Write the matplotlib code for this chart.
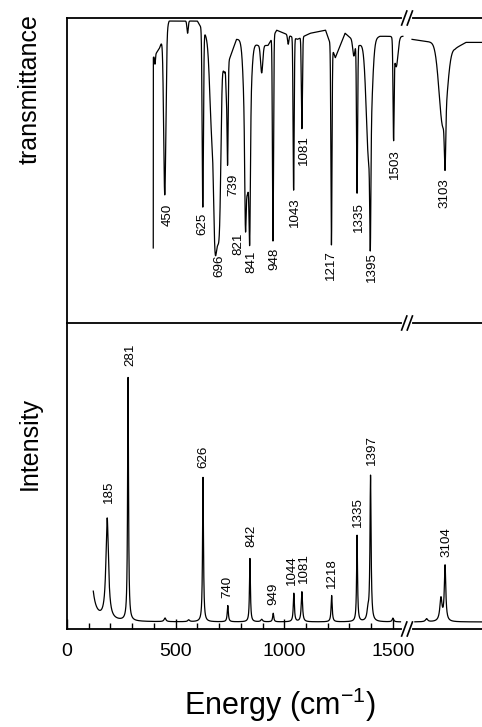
import numpy as np
import matplotlib.pyplot as plt

plt.rcParams['font.family'] = ['Liberation Sans', 'DejaVu Sans']
plt.rcParams['mathtext.fontset'] = 'custom'
plt.rcParams['mathtext.rm'] = 'Liberation Sans'
plt.rcParams['mathtext.it'] = 'Liberation Sans:italic'

# energy axis is broken: everything above the gap is shifted down by `shift`
shift = 1364
x_break = 1565
x_max = 1910

# ---- IR transmittance (top panel) ----
# upper envelope
ir_env_wn = [397, 425, 470, 600, 650, 725, 780, 805, 880, 925, 965, 1000, 1060,
             1120, 1190, 1235, 1280, 1345, 1440, 1546,
             2952, 3050, 3150, 3200, 3274]
ir_env_t = [0.87, 0.90, 0.99, 0.99, 0.93, 0.82, 0.93, 0.93, 0.91, 0.91, 0.96, 0.95, 0.93,
            0.95, 0.96, 0.87, 0.95, 0.91, 0.94, 0.94,
            0.93, 0.92, 0.90, 0.92, 0.92]
ir_start_t = 0.246  # spectrum begins with a jump at 397 cm-1

# absorption bands: centre, depth, width, shape power (2 = gaussian)
ir_c = [405, 450, 555, 625, 668, 692, 733, 739, 821, 830, 841, 896, 948, 1018,
        1043, 1081, 1217, 1320, 1335, 1390, 1396, 1503, 1515, 3095, 3104]
ir_d = [0.03, 0.53, 0.04, 0.58, 0.30, 0.60, 0.08, 0.33, 0.24, 0.50, 0.33, 0.09, 0.67, 0.03,
        0.50, 0.30, 0.65, 0.05, 0.49, 0.40, 0.335, 0.31, 0.10, 0.27, 0.17]
ir_w = [2, 5, 3, 3, 10, 15, 2, 2.5, 3, 12, 3, 5, 2.5, 3,
        2.5, 2.5, 2.5, 5, 2.5, 12, 2.5, 2.5, 8, 18, 3]
ir_p = [2, 2, 2, 2, 2, 4, 2, 2, 2, 2, 2, 2, 2, 2,
        2, 2, 2, 2, 2, 2, 2, 2, 2, 2, 2]

ir_labels = ['450', '625', '696', '739', '821', '841', '948', '1043', '1081',
             '1217', '1335', '1395', '1503', '3103']
ir_label_wn = [450, 625, 696, 739, 821, 841, 948, 1043, 1081, 1217, 1335, 1395, 1503, 3103]
ir_label_dx = [3, 0, 1, 6, -7, 2, 1, 1, 2, 0, 2, 1.5, 1.5, 0]
ir_label_gap = [9, 6, 10, 8, 4, 8, 7, 7, 6, 5, 9, 5, 8, 9]

# ---- Raman intensity (bottom panel) ----
raman_base = 0.023
raman_c = [95, 185, 281, 451, 560, 626, 740, 842, 896, 949, 1044, 1081, 1218,
           1335, 1385, 1397, 1500, 3019, 3085, 3104]
raman_h = [0.55, 0.33, 0.795, 0.012, 0.006, 0.472, 0.053, 0.207, 0.008, 0.028, 0.093, 0.098,
           0.086, 0.282, 0.03, 0.475, 0.012, 0.01, 0.075, 0.18]
raman_g = [12, 7, 2.5, 5, 5, 2.5, 3, 2.5, 5, 3, 3, 3.5, 3,
           2.5, 5, 3, 4, 6, 6, 4]

raman_labels = ['185', '281', '626', '740', '842', '949', '1044', '1081', '1218',
                '1335', '1397', '3104']
raman_label_wn = [185, 281, 626, 740, 842, 949, 1044, 1081, 1218, 1335, 1397, 3104]
raman_label_dx = [2, 2.5, 0, 0, 1, 0, -1.5, 2.5, 0, 1, 1, 1.5]
raman_label_gap = [15, 11, 9, 8, 11, 8, 8, 9, 7, 8, 10, 8]


def to_axis(wn):
    wn = np.asarray(wn, dtype=float)
    return np.where(wn > 2000, wn - shift, wn)


def ir_curve(wn):
    wn = np.asarray(wn, dtype=float)
    t = np.interp(wn, ir_env_wn, ir_env_t)
    for c, d, w, p in zip(ir_c, ir_d, ir_w, ir_p):
        t = t - d * np.exp(-0.5 * (np.abs(wn - c) / w) ** p)
    return t


def raman_curve(wn):
    wn = np.asarray(wn, dtype=float)
    y = np.full_like(wn, raman_base)
    for c, h, g in zip(raman_c, raman_h, raman_g):
        y = y + h * g ** 2 / ((wn - c) ** 2 + g ** 2)
    return y


fig = plt.figure(figsize=(4.82, 7.27), dpi=100)
W, H = 482, 727
ax_ir = fig.add_axes([67 / W, 1 - 323 / H, 1 - 67 / W, 305 / H])
ax_ra = fig.add_axes([67 / W, 1 - 629 / H, 1 - 67 / W, 306 / H])

lw_spec = 0.9
# IR, two pieces either side of the break
lo = np.arange(397, 1546, 0.25)
hi = np.arange(2952, 3274, 0.5)
ax_ir.plot(to_axis(np.r_[lo[0], lo]), np.r_[ir_start_t, ir_curve(lo)], color='black', lw=lw_spec)
ax_ir.plot(to_axis(hi), ir_curve(hi), color='black', lw=lw_spec)

lo = np.arange(121, 1535, 0.25)
hi = np.arange(2965, 3274, 0.5)
ax_ra.plot(to_axis(lo), raman_curve(lo), color='black', lw=lw_spec)
ax_ra.plot(to_axis(hi), raman_curve(hi), color='black', lw=lw_spec)

for lab, wn, dx, gap in zip(ir_labels, ir_label_wn, ir_label_dx, ir_label_gap):
    ax_ir.annotate(lab, xy=(to_axis(wn), ir_curve([wn])[0]), xytext=(dx, -gap),
                   textcoords='offset pixels', rotation=90, ha='center', va='top',
                   fontsize=9.6)

for lab, wn, dx, gap in zip(raman_labels, raman_label_wn, raman_label_dx, raman_label_gap):
    ax_ra.annotate(lab, xy=(to_axis(wn), raman_curve([wn])[0]), xytext=(dx, gap),
                   textcoords='offset pixels', rotation=90, ha='center', va='bottom',
                   fontsize=9.6)

for ax in (ax_ir, ax_ra):
    ax.set_xlim(0, x_max)
    ax.set_ylim(0, 1)
    ax.spines['right'].set_visible(False)
    for s in ('left', 'top', 'bottom'):
        ax.spines[s].set_linewidth(1.3)
    ax.set_yticks([])

ax_ir.spines['bottom'].set_visible(False)
ax_ir.set_xticks([])

ax_ra.set_xticks([0, 500, 1000, 1500])
ax_ra.set_xticks(np.arange(100, 1501, 100), minor=True)
ax_ra.tick_params(axis='x', which='major', direction='in', length=7, width=1,
                  labelsize=14, pad=10)
ax_ra.tick_params(axis='x', which='minor', direction='in', length=4, width=1)


def draw_break(ax, yfrac, h_px):
    xc = x_break / x_max
    half = 2.8 / 415
    ax.plot([xc - half, xc + half], [yfrac, yfrac], color='white', lw=3,
            transform=ax.transAxes, clip_on=False, zorder=5)
    for xs in (xc - half, xc + half):
        ax.plot([xs - 2.6 / 415, xs + 2.6 / 415], [yfrac - 7 / h_px, yfrac + 7 / h_px],
                color='black', lw=1.2, transform=ax.transAxes, clip_on=False, zorder=6)


draw_break(ax_ir, 1.0, 305)
draw_break(ax_ra, 1.0, 306)
draw_break(ax_ra, 0.0, 306)

fig.text(30 / W, 1 - 89 / H, 'transmittance', rotation=90, ha='center', va='center', fontsize=18)
fig.text(30 / W, 1 - 443 / H, 'Intensity', rotation=90, ha='center', va='center', fontsize=18)
fig.text(280 / W, 1 - 715 / H, 'Energy (cm$^{-1}$)', ha='center', va='baseline', fontsize=22)

fig.savefig('out.png', dpi=100)
